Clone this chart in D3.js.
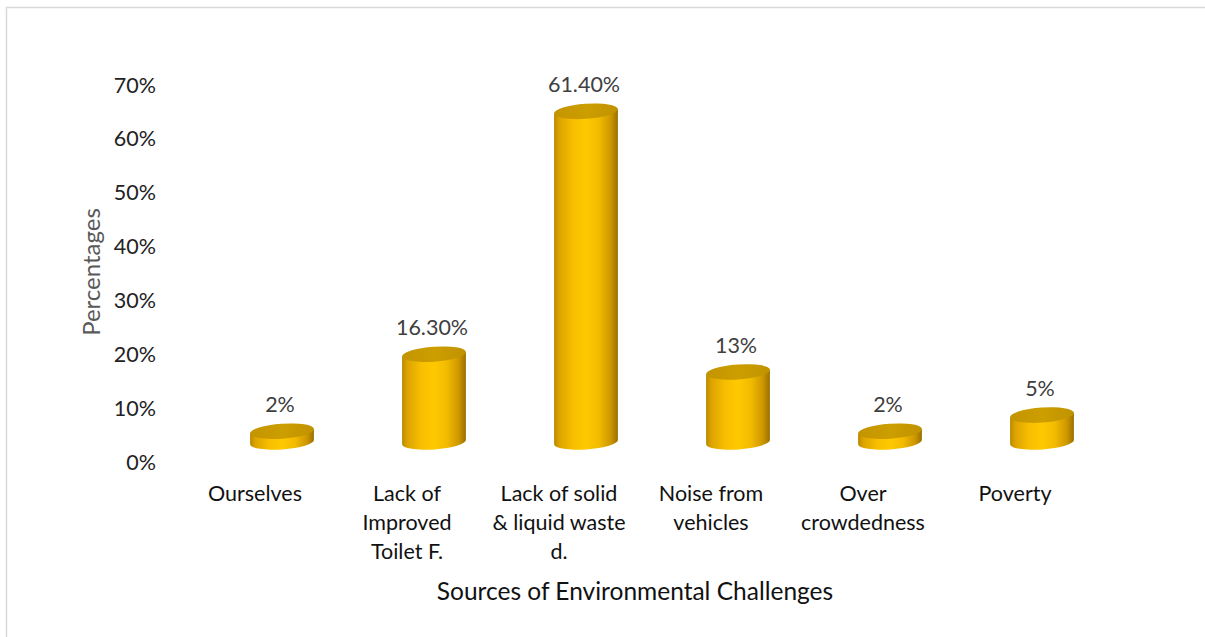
<!DOCTYPE html>
<html>
<head>
<meta charset="utf-8">
<script src="https://cdn.jsdelivr.net/npm/d3@7"></script>
<style>
  html, body { margin: 0; padding: 0; background: #ffffff; }
  svg { display: block; font-family: Lato, "Liberation Sans", sans-serif; }
</style>
</head>
<body>
<svg id="chart" width="1205" height="637"></svg>
<script>
// Categories (each label split into its display lines) and values in percent
const categories = ["Ourselves", "Lack of Improved Toilet F.", "Lack of solid & liquid waste d.", "Noise from vehicles", "Over crowdedness", "Poverty"];
const categoryLines = [
  ["Ourselves"],
  ["Lack of", "Improved", "Toilet F."],
  ["Lack of solid", "& liquid waste", "d."],
  ["Noise from", "vehicles"],
  ["Over", "crowdedness"],
  ["Poverty"]
];
const values = [2, 16.3, 61.4, 13, 2, 5];
const valueLabels = ["2%", "16.30%", "61.40%", "13%", "2%", "5%"];
const yTicks = [0, 10, 20, 30, 40, 50, 60, 70];

const svg = d3.select("#chart");

// Chart border
svg.append("rect")
  .attr("x", 6.5).attr("y", 7.5)
  .attr("width", 1205).attr("height", 640)
  .attr("fill", "none").attr("stroke", "#d9d9d9").attr("stroke-width", 1.5);

// Scales
const x = d3.scaleBand().domain(categories).range([179, 1091]).padding(0);
const y = d3.scaleLinear().domain([0, 70]).range([462, 85]);

// 3D depth offset of the bars relative to the axis plane
const depthX = 27, depthY = 20;
const rx = 32, ry = 7.5;
const tilt = -4;                                   // slight perspective tilt of the ellipses (deg)
const dy = rx * Math.sin(tilt * Math.PI / 180);    // vertical shift of the ellipse ends
const dx = rx * Math.cos(tilt * Math.PI / 180);

// Cylinder gradients
const defs = svg.append("defs");
const bodyGrad = defs.append("linearGradient").attr("id", "bodyGrad")
  .attr("x1", "0%").attr("x2", "100%").attr("y1", "0%").attr("y2", "0%");
[[0, "#b98900"], [0.08, "#dca300"], [0.3, "#f7bf00"], [0.5, "#ffc900"], [0.7, "#f2bb00"], [0.88, "#cf9900"], [1, "#9c7200"]]
  .forEach(([o, c]) => bodyGrad.append("stop").attr("offset", o).attr("stop-color", c));
const capGrad = defs.append("linearGradient").attr("id", "capGrad")
  .attr("x1", "0%").attr("x2", "100%").attr("y1", "0%").attr("y2", "0%");
[[0, "#c39400"], [0.5, "#cd9e00"], [1, "#c09200"]]
  .forEach(([o, c]) => capGrad.append("stop").attr("offset", o).attr("stop-color", c));

// Y axis tick labels
svg.append("g").selectAll("text").data(yTicks).join("text")
  .attr("x", 156).attr("y", d => y(d))
  .attr("dy", "0.35em").attr("text-anchor", "end")
  .attr("font-size", 21.5).attr("fill", "#222222")
  .text(d => d + "%");

// Y axis title
svg.append("text")
  .attr("transform", "translate(100,272) rotate(-90)")
  .attr("text-anchor", "middle").attr("font-size", 24).attr("fill", "#595959")
  .text("Percentages");

// Cylinders
const bars = svg.append("g").selectAll("g").data(categories).join("g");
bars.each(function(c, i) {
  const g = d3.select(this);
  const cx = x(c) + x.bandwidth() / 2 + depthX;
  const yb = y(0) - depthY;
  const yt = y(values[i]) - depthY;
  // side of the cylinder with rounded bottom
  g.append("path")
    .attr("d", `M${cx - dx},${yt - dy} L${cx - dx},${yb - dy} A${rx},${ry} ${tilt} 0 0 ${cx + dx},${yb + dy} L${cx + dx},${yt + dy} Z`)
    .attr("fill", "url(#bodyGrad)");
  // top cap
  g.append("ellipse")
    .attr("cx", cx).attr("cy", yt).attr("rx", rx).attr("ry", ry)
    .attr("transform", `rotate(${tilt},${cx},${yt})`)
    .attr("fill", "url(#capGrad)");
  // value label
  g.append("text")
    .attr("x", cx - 2).attr("y", yt - ry - 19).attr("dy", "0.35em")
    .attr("text-anchor", "middle").attr("font-size", 21.5).attr("fill", "#404040")
    .text(valueLabels[i]);
});

// Category labels
const cat = svg.append("g").selectAll("text").data(categories).join("text")
  .attr("x", d => x(d) + x.bandwidth() / 2)
  .attr("y", 493)
  .attr("text-anchor", "middle").attr("font-size", 21.5).attr("fill", "#111111");
cat.each(function(d, i) {
  const t = d3.select(this);
  categoryLines[i].forEach((line, j) => {
    t.append("tspan")
      .attr("x", x(d) + x.bandwidth() / 2)
      .attr("y", 493 + j * 29)
      .attr("dy", "0.35em")
      .text(line);
  });
});

// X axis title
svg.append("text")
  .attr("x", 635).attr("y", 591).attr("dy", "0.35em")
  .attr("text-anchor", "middle").attr("font-size", 24.5).attr("fill", "#111111")
  .text("Sources of Environmental Challenges");
</script>
</body>
</html>
